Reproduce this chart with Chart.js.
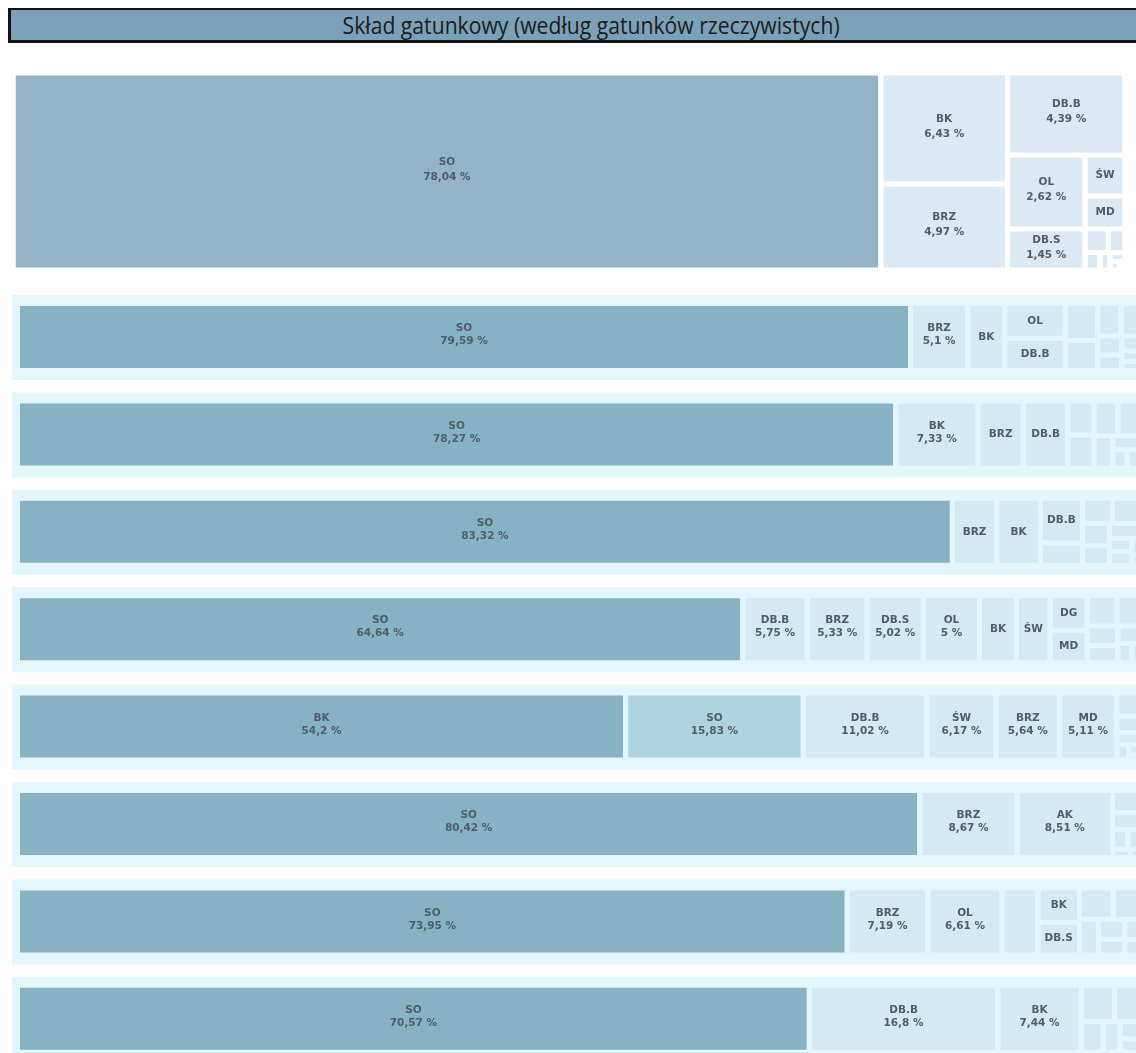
<!DOCTYPE html>
<html lang="pl">
<head>
<meta charset="utf-8">
<title>Skład gatunkowy</title>
<script src="https://cdn.jsdelivr.net/npm/chart.js@4.4.1/dist/chart.umd.min.js"></script>
<style>
    html, body { margin: 0; padding: 0; background: #fff; overflow: hidden; }
    #wykres { position: absolute; left: 0; top: 0; }
    #naglowek {
        position: absolute; left: 8px; top: 8px; width: 1160px; height: 30px;
        background: #7aa1b8; border-top: 2px solid #111; border-bottom: 3px solid #111; border-left: 3px solid #111;
        text-align: center; line-height: 30px; z-index: 2;
    }
    #naglowek span {
        display: inline-block; font-family: "Open Sans", sans-serif; font-size: 23px; color: #1c1c1c;
        transform: scaleX(0.92);
    }
</style>
</head>
<body>
<div id="naglowek"><span>Skład gatunkowy (według gatunków rzeczywistych)</span></div>
<canvas id="wykres" width="1136" height="1053"></canvas>
<script>
// dane - udziały gatunków w kolejnych wierszach (%)
const gatunki1 = ['SO', 'BK', 'BRZ', 'DB.B', 'OL', 'DB.S', 'ŚW', 'MD', 'AK', 'JW', 'GB', 'LP', 'KL', 'WB', 'OS'];
const udzialy1 = [78.04, 6.43, 4.97, 4.39, 2.62, 1.45, 0.75, 0.6, 0.25, 0.18, 0.12, 0.08, 0.06, 0.04, 0.02];

const gatunki2 = ['SO', 'BRZ', 'BK', 'OL', 'DB.B', 'DB.S', 'ŚW', 'MD', 'GB', 'JW', 'AK', 'LP', 'WB', 'KL'];
const udzialy2 = [79.59, 5.1, 3.3, 2.8, 2.6, 1.6, 1.3, 1.0, 0.8, 0.6, 0.5, 0.35, 0.25, 0.21];

const gatunki3 = ['SO', 'BK', 'BRZ', 'DB.B', 'OL', 'DB.S', 'ŚW', 'MD', 'JW', 'AK', 'GB', 'LP'];
const udzialy3 = [78.27, 7.33, 4.05, 3.95, 1.2, 1.15, 1.1, 1.0, 0.8, 0.5, 0.35, 0.3];

const gatunki4 = ['SO', 'BRZ', 'BK', 'DB.B', 'OL', 'DB.S', 'ŚW', 'MD', 'JW', 'AK', 'GB', 'LP', 'KL', 'WB'];
const udzialy4 = [83.32, 3.95, 3.9, 2.5, 1.25, 1.0, 0.9, 0.8, 0.7, 0.6, 0.4, 0.4, 0.17, 0.11];

const gatunki5 = ['SO', 'DB.B', 'BRZ', 'DB.S', 'OL', 'BK', 'ŚW', 'DG', 'MD', 'JW', 'AK', 'GB', 'LP', 'KL', 'WB', 'OS'];
const udzialy5 = [64.64, 5.75, 5.33, 5.02, 5, 3.3, 3.0, 1.7, 1.6, 1.2, 0.9, 0.8, 0.7, 0.5, 0.36, 0.2];

const gatunki6 = ['BK', 'SO', 'DB.B', 'ŚW', 'BRZ', 'MD', 'DB.S', 'OL', 'GB', 'JW', 'AK', 'LP'];
const udzialy6 = [54.2, 15.83, 11.02, 6.17, 5.64, 5.11, 0.7, 0.5, 0.35, 0.25, 0.15, 0.08];

const gatunki7 = ['SO', 'BRZ', 'AK', 'BK', 'DB.B', 'OL', 'ŚW', 'MD', 'JW'];
const udzialy7 = [80.42, 8.67, 8.51, 0.8, 0.6, 0.4, 0.3, 0.2, 0.1];

const gatunki8 = ['SO', 'BRZ', 'OL', 'DB.B', 'BK', 'DB.S', 'ŚW', 'MD', 'AK', 'JW', 'GB', 'LP', 'KL'];
const udzialy8 = [73.95, 7.19, 6.61, 3.2, 1.9, 1.8, 1.4, 1.1, 0.9, 0.7, 0.55, 0.4, 0.3];

const gatunki9 = ['SO', 'DB.B', 'BK', 'BRZ', 'OL', 'DB.S', 'ŚW', 'MD', 'JW'];
const udzialy9 = [70.57, 16.8, 7.44, 1.6, 1.2, 0.9, 0.7, 0.45, 0.34];

const wiersze = [
    [gatunki1, udzialy1], [gatunki2, udzialy2], [gatunki3, udzialy3],
    [gatunki4, udzialy4], [gatunki5, udzialy5], [gatunki6, udzialy6],
    [gatunki7, udzialy7], [gatunki8, udzialy8], [gatunki9, udzialy9]
];

// prostokąt wiersza w jednostkach osi (oś = piksele strony)
function obszarWiersza(i) {
    if (i === 0) return { x: 13, y: 73, w: 1112, h: 197 };
    return { x: 17.5, y: 303.5 + (i - 1) * 97.4, w: 1122, h: 67 };
}

function najgorszy(rzad, bok) {
    const s = rzad.reduce((a, b) => a + b, 0);
    const mx = Math.max(...rzad), mn = Math.min(...rzad);
    return Math.max(bok * bok * mx / (s * s), (s * s) / (bok * bok * mn));
}

// squarified treemap
function squarify(wartosci, r) {
    const suma = wartosci.reduce((a, b) => a + b, 0);
    const pola = wartosci.map(v => v * r.w * r.h / suma);
    const wynik = [];
    let x = r.x, y = r.y, w = r.w, h = r.h;
    let i = 0;
    while (i < pola.length) {
        const bok = Math.min(w, h);
        let rzad = [pola[i]];
        let j = i + 1;
        while (j < pola.length) {
            const kand = rzad.concat(pola[j]);
            if (najgorszy(kand, bok) <= najgorszy(rzad, bok)) { rzad = kand; j++; } else break;
        }
        const s = rzad.reduce((a, b) => a + b, 0);
        const grub = s / bok;
        if (w >= h) {
            let yy = y;
            rzad.forEach(a => { const hh = a / grub; wynik.push({ x: x, y: yy, w: grub, h: hh }); yy += hh; });
            x += grub; w -= grub;
        } else {
            let xx = x;
            rzad.forEach(a => { const ww = a / grub; wynik.push({ x: xx, y: y, w: ww, h: grub }); xx += ww; });
            y += grub; h -= grub;
        }
        i = j;
    }
    return wynik;
}

function kolor(wiersz, v, max) {
    const r = v / max;
    if (r >= 0.5) return wiersz === 0 ? '#94b3c6' : '#87b2c4';
    if (r >= 0.27) return '#afd3e1';
    return wiersz === 0 ? '#dae9f4' : '#d4e9f2';
}

const komorki = [];
const datasets = [];
const odstep = 2.5;

wiersze.forEach(([gatunki, udzialy], wi) => {
    const r = obszarWiersza(wi);
    if (wi > 0) {
        datasets.push({
            data: [{ x: 12, y: r.y - 8.5 }, { x: 1136, y: r.y - 8.5 }],
            fill: { value: r.y + r.h + 9.5 },
            backgroundColor: '#e3f6fb',
            borderWidth: 0, pointRadius: 0, order: 10
        });
    }
    const max = Math.max(...udzialy);
    const prost = squarify(udzialy, r);
    prost.forEach((p, k) => {
        const c = { x0: p.x + odstep, x1: p.x + p.w - odstep, y0: p.y + odstep, y1: p.y + p.h - odstep, nazwa: gatunki[k], v: udzialy[k], wiersz: wi };
        if (c.x1 <= c.x0 || c.y1 <= c.y0) return;
        komorki.push(c);
        datasets.push({
            data: [{ x: c.x0, y: c.y0 }, { x: c.x1, y: c.y0 }],
            fill: { value: c.y1 },
            backgroundColor: kolor(wi, udzialy[k], max),
            borderWidth: 0, pointRadius: 0, order: 1
        });
    });
});

const etykiety = {
    id: 'etykiety',
    afterDatasetsDraw(chart) {
        const ctx = chart.ctx;
        const sx = chart.scales.x, sy = chart.scales.y;
        ctx.save();
        ctx.font = 'bold 10.5px "DejaVu Sans", Verdana, sans-serif';
        ctx.fillStyle = '#4f5d68';
        ctx.textAlign = 'center';
        ctx.textBaseline = 'middle';
        komorki.forEach(c => {
            const px0 = sx.getPixelForValue(c.x0), px1 = sx.getPixelForValue(c.x1);
            const py0 = sy.getPixelForValue(c.y0), py1 = sy.getPixelForValue(c.y1);
            const w = px1 - px0, h = Math.abs(py1 - py0);
            const cx = (px0 + px1) / 2;
            const cy = (py0 + py1) / 2;
            const proc = String(c.v).replace('.', ',') + ' %';
            const wN = ctx.measureText(c.nazwa).width;
            const wP = ctx.measureText(proc).width;
            const lin = c.wiersz === 0 ? 7.5 : 6.5;
            if (h >= 34 && wP + 9 <= w && wN + 7 <= w) {
                ctx.fillText(c.nazwa, cx, cy - lin - 2);
                ctx.fillText(proc, cx, cy + lin - 2);
            } else if (h >= 26.5 && wN + 7 <= w) {
                ctx.fillText(c.nazwa, cx, cy);
            }
        });
        ctx.restore();
    }
};

new Chart(document.getElementById('wykres').getContext('2d'), {
    type: 'line',
    data: { datasets: datasets },
    options: {
        responsive: false,
        animation: false,
        layout: { padding: 0 },
        plugins: { legend: { display: false }, tooltip: { enabled: false }, title: { display: false } },
        scales: {
            x: { type: 'linear', min: 0, max: 1136, display: false },
            y: { type: 'linear', min: 0, max: 1053, reverse: true, display: false }
        }
    },
    plugins: [etykiety]
});
</script>
</body>
</html>
